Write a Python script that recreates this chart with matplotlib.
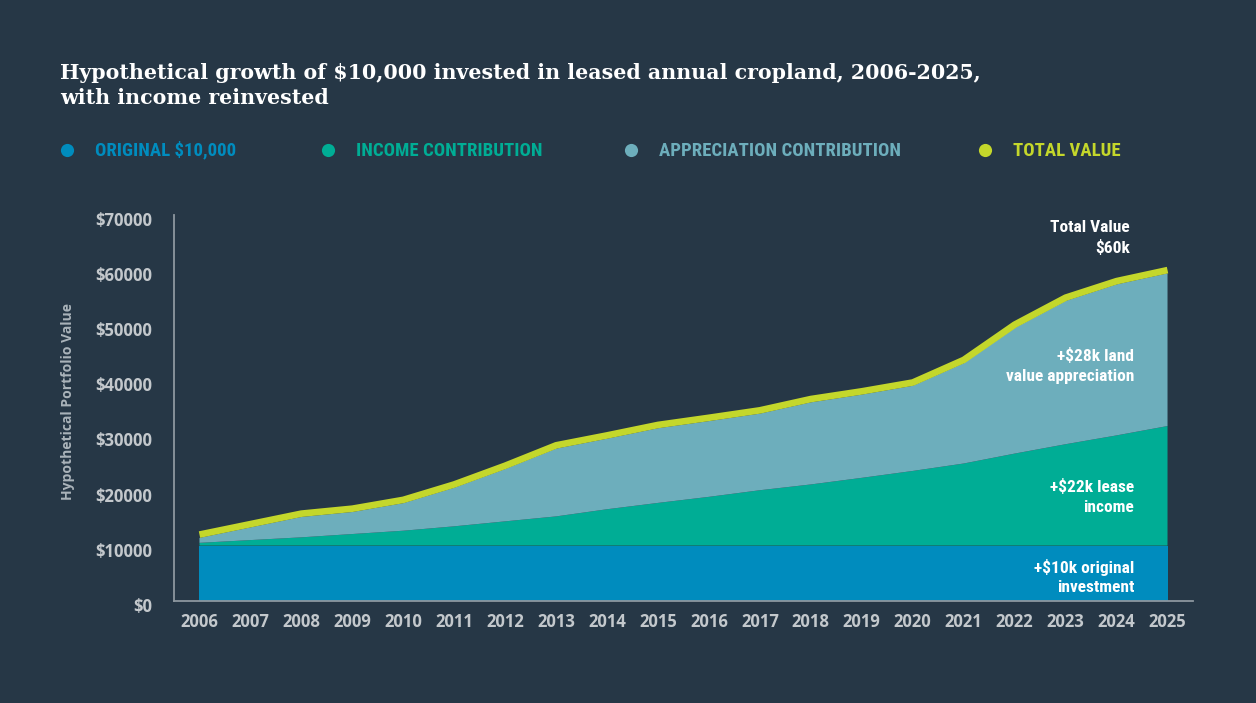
import matplotlib
matplotlib.use("Agg")
import matplotlib.pyplot as plt
from matplotlib import font_manager as fm
from matplotlib.transforms import ScaledTranslation
import numpy as np

# ---------------- data (values in $) ----------------
years = list(range(2006, 2026))
original = [10000] * 20
income = [500, 1000, 1500, 2100, 2700, 3500, 4400, 5300, 6600, 7750,
          8850, 10050, 11100, 12300, 13550, 14900, 16700, 18400, 20000, 21700]
appreciation = [900, 2300, 3700, 4000, 5000, 7000, 9500, 12300, 12800, 13550,
                13750, 13900, 14900, 15100, 15450, 18200, 22800, 26000, 27400, 27700]
total_value = [12000, 13900, 15800, 16700, 18300, 21100, 24500, 28200, 30000, 31900,
               33200, 34550, 36600, 38000, 39600, 43700, 50100, 55000, 58000, 60000]
y_ticks = [0, 10000, 20000, 30000, 40000, 50000, 60000, 70000]
y_tick_labels = ["$" + str(v) for v in y_ticks]

legend_labels = ["ORIGINAL $10,000", "INCOME CONTRIBUTION",
                 "APPRECIATION CONTRIBUTION", "TOTAL VALUE"]
annotations = [("Total Value\n$60k", 1130, 238), ("+$28k land\nvalue appreciation", 1134, 366),
               ("+$22k lease\nincome", 1134, 497), ("+$10k original\ninvestment", 1134, 577)]
title = ("Hypothetical growth of $10,000 invested in leased annual cropland, 2006-2025,\n"
         "with income reinvested")

# ---------------- style ----------------
BG = "#263746"
C_BLUE = "#008cbe"
C_GREEN = "#00ad95"
C_LIGHT = "#6daebc"
C_YELLOW = "#c4d72b"
TICK_C = "#c3c8cc"
SPINE_C = "#8d979f"

names = {f.name for f in fm.fontManager.ttflist}
cond_family = None
for cand in ["Liberation Sans Narrow", "Roboto Condensed", "Open Sans Condensed"]:
    if cand in names:
        cond_family = cand
        break
cond_stretch = "normal"
if cond_family is None:
    for f in fm.fontManager.ttflist:
        if f.name == "DejaVu Sans" and "ondensed" in str(f.stretch):
            cond_family = "DejaVu Sans"
            cond_stretch = "condensed"
            break
if cond_family is None:
    cond_family = "Roboto"

sans = "Open Sans" if "Open Sans" in names else "DejaVu Sans"

W, H = 1256, 703
fig = plt.figure(figsize=(W / 100, H / 100), dpi=100, facecolor=BG)

ax = fig.add_axes([174 / W, 1 - 600.7 / H, (1193 - 174) / W, (600.7 - 215) / H])
ax.set_facecolor(BG)

x = np.array(years)
ax.stackplot(x, original, income, appreciation,
             colors=[C_BLUE, C_GREEN, C_LIGHT], linewidth=0, zorder=2)
ax.plot(x, total_value, color=C_YELLOW, lw=4.8, solid_capstyle="butt",
        solid_joinstyle="round", zorder=3)

ax.set_xlim(2005.5, 2025.5)
ax.set_ylim(0, 70000)
ax.set_xticks(years)
ax.set_xticklabels([str(y) for y in years])
ax.set_yticks(y_ticks)
ax.set_yticklabels(y_tick_labels)
ax.tick_params(axis="both", length=0, colors=TICK_C, labelsize=12)
ax.tick_params(axis="x", pad=9)
ax.tick_params(axis="y", pad=16)
for lab in ax.get_xticklabels() + ax.get_yticklabels():
    lab.set_fontfamily(sans)
    lab.set_fontweight("bold")
shift = ScaledTranslation(0, -4 / 100, fig.dpi_scale_trans)
for lab in ax.get_yticklabels():
    lab.set_transform(lab.get_transform() + shift)
for s in ["top", "right"]:
    ax.spines[s].set_visible(False)
for s in ["left", "bottom"]:
    ax.spines[s].set_color(SPINE_C)
    ax.spines[s].set_linewidth(1.3)

# overlay for text in pixel coordinates
ov = fig.add_axes([0, 0, 1, 1], facecolor="none")
ov.set_xlim(0, W)
ov.set_ylim(H, 0)
ov.axis("off")

ov.text(60, 104, title, fontsize=14.8, fontweight="bold", family="DejaVu Serif",
        color="white", va="baseline", ha="left", linespacing=1.3)

ov.text(68, 402, "Hypothetical Portfolio Value", rotation=90, ha="center", va="center",
        fontsize=10, family=sans, fontweight="bold", color="#aab3ba")

leg_colors = [C_BLUE, C_GREEN, C_LIGHT, C_YELLOW]
leg_marker_x = [67, 328, 631, 985]
for lbl, col, mx in zip(legend_labels, leg_colors, leg_marker_x):
    ov.scatter([mx], [150], s=90, color=col, linewidths=0)
    ov.text(mx + 28, 155.5, lbl, color=col, fontsize=13.5, family=cond_family,
            fontstretch=cond_stretch, fontweight="bold", va="baseline", ha="left")

for txt, xr, yc in annotations:
    ov.text(xr, yc, txt, color="white", fontsize=12.5, family=cond_family,
            fontstretch=cond_stretch, fontweight="bold", ha="right", va="center",
            multialignment="right", linespacing=1.38)

fig.savefig("out.png", dpi=100, facecolor=BG)
